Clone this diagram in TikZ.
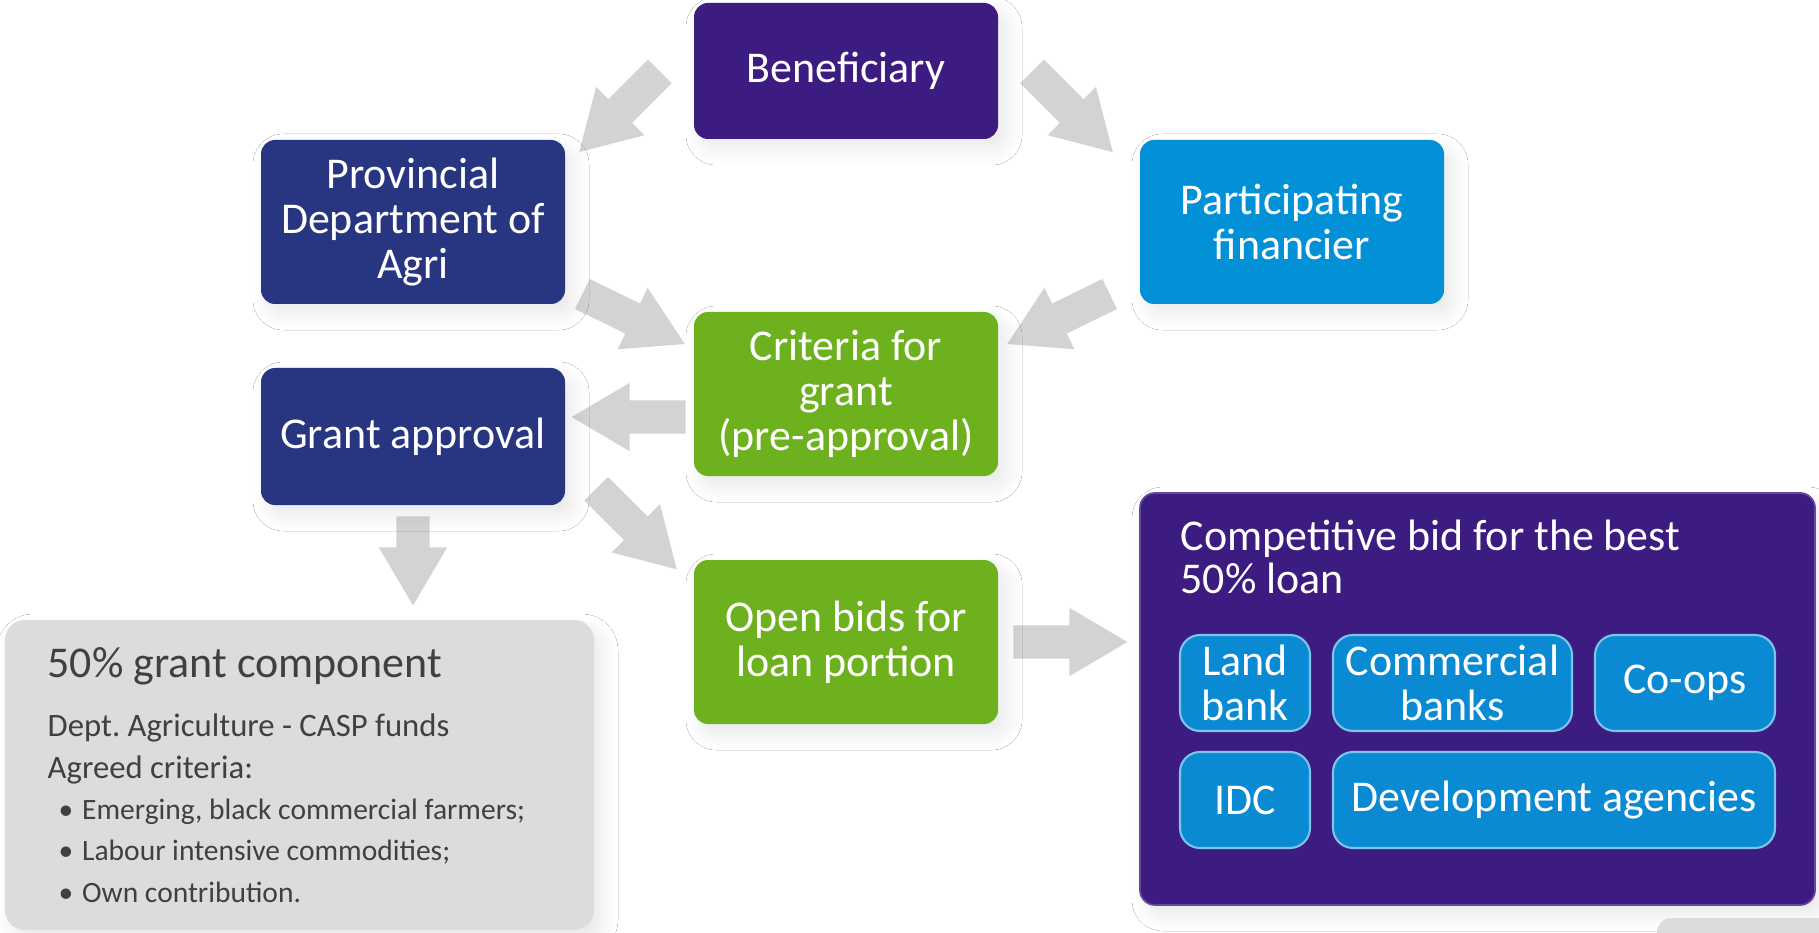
\documentclass[tikz,border=0pt]{standalone}
\usepackage{fontspec}
\setmainfont{Carlito}
\frenchspacing
\usetikzlibrary{shapes.arrows,shadows.blur,calc,backgrounds}

\definecolor{benepurple}{HTML}{3D1C81}
\definecolor{deptnavy}{HTML}{283682}
\definecolor{finblue}{HTML}{0290D6}
\definecolor{agentblue}{HTML}{0A8AD2}
\definecolor{agentedge}{HTML}{7EC3EC}
\definecolor{critgreen}{HTML}{6EB11E}
\definecolor{panelgrey}{HTML}{DCDCDC}
\definecolor{arrowgrey}{HTML}{D3D3D3}
\definecolor{inkgrey}{HTML}{404040}

\tikzset{
  softshadow/.style={blur shadow={shadow xshift=0.8mm, shadow yshift=-1mm,
      shadow blur radius=1.6mm, shadow opacity=9, shadow blur steps=12}},
  box/.style={rounded corners=0.14cm, minimum width=3.04cm, minimum height=1.64cm,
      inner sep=0pt, text=white, align=center,
      font=\fontsize{12.5}{12.7}\selectfont, softshadow},
  agent/.style={rounded corners=0.2cm, minimum height=0.96cm, inner sep=0pt,
      fill=agentblue, draw=agentedge, line width=0.6pt, text=white, align=center,
      font=\fontsize{12.5}{12.7}\selectfont},
  fatarrow/.style={single arrow, fill=arrowgrey, draw=none, anchor=tail,
      inner xsep=0pt, inner ysep=0.16cm, minimum width=0pt, minimum height=1.14cm,
      single arrow head extend=0.175cm, single arrow tip angle=61,
      single arrow head indent=0pt},
}

\begin{document}
\begin{tikzpicture}
  \useasboundingbox (0,0) rectangle (18.19,-9.33);

  % boxes of the first round
  \node[box, fill=benepurple, minimum height=1.36cm] (bene) at (8.46,-0.71) {Beneficiary};
  \node[box, fill=deptnavy] (prov) at (4.13,-2.22) {Provincial\\Department of\\Agri};
  \node[box, fill=finblue] (fin) at (12.92,-2.22) {Participating\\financier};
  \node[box, fill=critgreen] (crit) at (8.46,-3.94) {Criteria for\\grant\\(pre-approval)};
  \node[box, fill=deptnavy, minimum height=1.37cm] (grant) at (4.13,-4.365) {Grant approval};
  \node[box, fill=critgreen] (open) at (8.46,-6.42) {Open bids for\\loan portion};

  % grant side
  \node[rounded corners=0.2cm, fill=panelgrey, minimum width=5.89cm, minimum height=3.10cm,
        inner sep=0pt, softshadow] (grantpart) at (2.995,-7.75) {};
  \node[anchor=base west, text=inkgrey, inner sep=0pt,
        font=\fontsize{12.5}{12.7}\selectfont] (granttitle) at (0.47,-6.77) {50\% grant component};
  % base of a multi-line node sits on its last line
  \node[anchor=base west, text=inkgrey, inner sep=0pt, align=left,
        font=\fontsize{9.3}{11.7}\selectfont] (grantbody) at (0.47,-7.78)
        {Dept. Agriculture - CASP funds\\Agreed criteria:};
  \node[anchor=base west, text=inkgrey, inner sep=0pt, align=left,
        font=\fontsize{8.4}{11.7}\selectfont] (grantlist) at (0.58,-9.02)
        {\textbullet\hspace{2.5pt}Emerging, black commercial farmers;\\
         \textbullet\hspace{2.5pt}Labour intensive commodities;\\
         \textbullet\hspace{2.5pt}Own contribution.};

  % loan side
  \node[rounded corners=0.15cm, fill=benepurple, draw=benepurple!80!white, line width=0.5pt,
        minimum width=6.75cm, minimum height=4.12cm, inner sep=0pt, softshadow] (loan) at (14.775,-6.99) {};
  \node[anchor=base west, text=white, inner sep=0pt, align=left,
        font=\fontsize{12.5}{12.2}\selectfont] (loantitle) at (11.80,-5.93)
        {Competitive bid for the best\\50\% loan};
  \node[agent, minimum width=1.30cm] (land) at (12.45,-6.83) {Land\\bank};
  \node[agent, minimum width=2.39cm] (comm) at (14.525,-6.83) {Commercial\\banks};
  \node[agent, minimum width=1.80cm] (coop) at (16.85,-6.83) {Co-ops};
  \node[agent, minimum width=1.30cm] (idc) at (12.45,-8.00) {IDC};
  \node[agent, minimum width=4.42cm] (dev) at (15.54,-8.00) {Development agencies};

  % block arrows, kept behind the boxes
  \begin{scope}[on background layer]
    \fill[white] (0,0) rectangle (18.19,-9.33);
    \node[fatarrow, rotate=-135] (bene2prov) at ($(bene.west)+(-0.33,0)$) {};
    \node[fatarrow, rotate=-45] (bene2fin) at ($(bene.east)+(0.33,0)$) {};
    \node[fatarrow, rotate=-26] (prov2crit) at ($(prov.south east)+(0.16,0.11)$) {};
    \node[fatarrow, rotate=-154] (fin2crit) at ($(fin.south west)+(-0.29,0.11)$) {};
    \node[fatarrow, rotate=180] (crit2grant) at ($(crit.west)+(-0.07,-0.23)$) {};
    \node[fatarrow, rotate=-45] (grant2open) at ($(grant.south east)+(0.30,0.175)$) {};
    \node[fatarrow, rotate=-90, minimum height=0.89cm] (grant2part) at ($(grant.south)+(0,-0.10)$) {};
    \node[fatarrow] (open2loan) at ($(open.east)+(0.14,0)$) {};
  \end{scope}

  % edge of the next panel
  \begin{scope}
    \clip (0,0) rectangle (18.19,-9.33);
    \fill[panelgrey, rounded corners=0.14cm] (16.57,-9.6) -- (16.57,-9.18) -- (18.5,-9.18) -- (18.5,-9.6) -- cycle;
  \end{scope}
\end{tikzpicture}
\end{document}
